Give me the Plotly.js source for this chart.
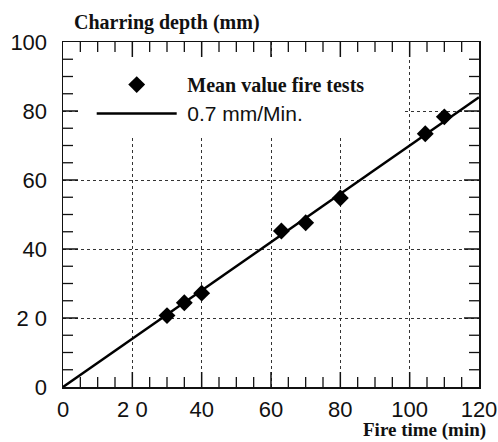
<!DOCTYPE html>
<html><head><meta charset="utf-8">
<script src="https://cdn.plot.ly/plotly-3.0.1.min.js"></script>
<style>html,body{margin:0;padding:0;background:#fff}#chart{width:498px;height:442px}</style>
</head><body><div id="chart"></div>
<script>
const fireTime = [30, 35, 40, 63, 70, 80, 104.5, 110];
const charDepth = [20.7, 24.4, 27.2, 45.2, 47.6, 54.8, 73.4, 78.3];
const fitTime = [0, 120];
const fitDepth = [0, 84];
const xTickVals = [0, 20, 40, 60, 80, 100, 120];
const xTickText = ['0', '2 0', '40', '60', '80', '100', '120'];
const yTickVals = [0, 20, 40, 60, 80, 100];
const yTickText = ['0', '2 0', '40', '60', '80', '100'];
const xRange = [0, 120];
const yRange = [0, 100];
const minorStep = 5;
const seriesName = 'Mean value fire tests';
const fitName = '0.7 mm/Min.';
const yTitle = 'Charring depth (mm)';
const xTitle = 'Fire time (min)';

const serif = 'Liberation Serif, Times New Roman, serif';
const sans = 'Liberation Sans, Arial, sans-serif';

const traces = [
  {x: fireTime, y: charDepth, mode: 'markers', type: 'scatter',
   name: '\u00a0<span style="font-family:Liberation Serif;font-weight:bold;font-size:20px">' + seriesName + '</span>',
   marker: {symbol: 'diamond', size: 13, color: '#000'}},
  {x: fitTime, y: fitDepth, mode: 'lines', type: 'scatter',
   name: '\u00a0<span style="font-size:21px">' + fitName + '</span>',
   line: {color: '#000', width: 2.5}}
];

// inward frame ticks on all four sides, placed through the axes' own scales
function frameTicks(range, majors, isX) {
  const out = [];
  for (let v = range[0] + minorStep; v < range[1]; v += minorStep) {
    const len = majors.indexOf(v) >= 0 ? 15 : 10;
    const w = majors.indexOf(v) >= 0 ? 1.5 : 1.3;
    [[0, 1], [1, -1]].forEach(function (side) {
      if (isX) {
        out.push({type: 'line', xref: 'x', x0: v, x1: v, yref: 'paper', ysizemode: 'pixel',
                  yanchor: side[0], y0: 0, y1: side[1] * len, line: {color: '#111', width: w}, layer: 'above'});
      } else {
        out.push({type: 'line', yref: 'y', y0: v, y1: v, xref: 'paper', xsizemode: 'pixel',
                  xanchor: side[0], x0: 0, x1: side[1] * len, line: {color: '#111', width: w}, layer: 'above'});
      }
    });
  }
  return out;
}

const axisCommon = {
  showline: true, linecolor: '#111', linewidth: 1.5, mirror: true,
  ticks: '', showgrid: true, gridcolor: '#333', griddash: 'dot', gridwidth: 1,
  zeroline: false, tickmode: 'array',
  tickfont: {family: sans, size: 22, color: '#111'}
};

const legendCover = {type: 'rect', xref: 'paper', yref: 'paper', x0: 0.041, x1: 0.822, y0: 0.722, y1: 0.952,
                     fillcolor: '#fff', line: {width: 0}, layer: 'above'};

const layout = {
  width: 498, height: 442,
  margin: {l: 63, r: 19, t: 42, b: 55},
  paper_bgcolor: '#fff', plot_bgcolor: '#fff',
  showlegend: true,
  legend: {x: 0.069, xanchor: 'left', y: 0.933, yanchor: 'top', bgcolor: 'rgba(0,0,0,0)',
           font: {family: sans, size: 20, color: '#111'}, itemwidth: 80, tracegroupgap: 0},
  xaxis: Object.assign({}, axisCommon, {range: xRange, tickvals: xTickVals, ticktext: xTickText, ticklabelstandoff: 2}),
  yaxis: Object.assign({}, axisCommon, {range: yRange, tickvals: yTickVals, ticktext: yTickText, ticklabelstandoff: 10}),
  shapes: [legendCover].concat(frameTicks(xRange, xTickVals, true), frameTicks(yRange, yTickVals, false)),
  annotations: [
    {text: '<b>' + yTitle + '</b>', xref: 'paper', yref: 'paper', x: 0.022, y: 1, yshift: 20,
     xanchor: 'left', yanchor: 'middle', showarrow: false, font: {family: serif, size: 20, color: '#111'}},
    {text: '<b>' + xTitle + '</b>', xref: 'paper', yref: 'paper', x: 1.022, y: 0, yshift: -43,
     xanchor: 'right', yanchor: 'middle', showarrow: false, font: {family: serif, size: 19, color: '#111'}}
  ]
};

Plotly.newPlot('chart', traces, layout, {displayModeBar: false, staticPlot: true});
</script></body></html>
